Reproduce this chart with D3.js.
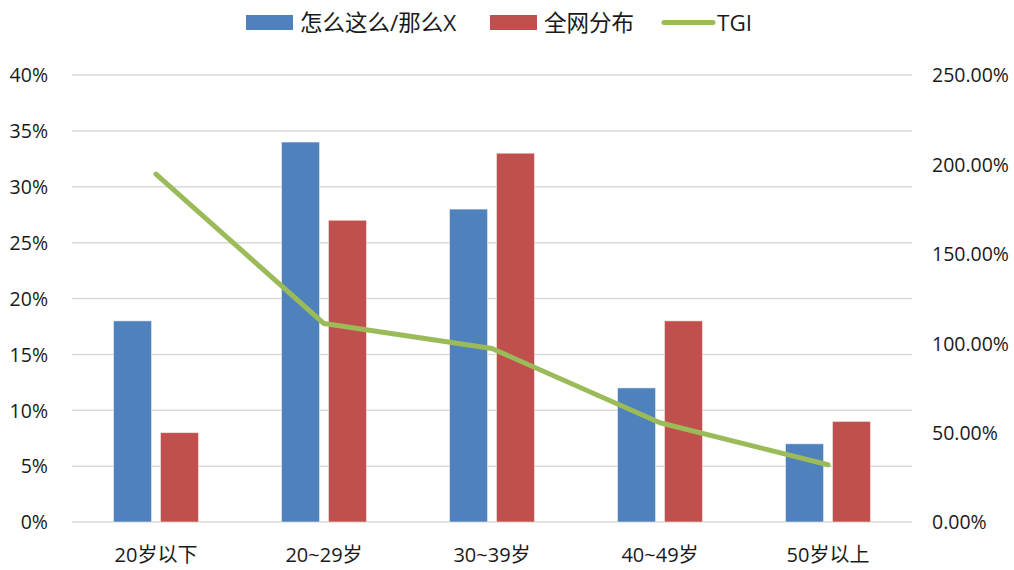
<!DOCTYPE html>
<html>
<head>
<meta charset="utf-8">
<script src="https://cdn.jsdelivr.net/npm/d3@7"></script>
<style>
  body { margin: 0; background: #fff; }
  svg text { font-family: "Open Sans", "Noto Sans CJK SC", sans-serif; fill: #1a1a1a; }
</style>
</head>
<body>
<div id="chart"></div>
<script>
const categories = ['20岁以下', '20~29岁', '30~39岁', '40~49岁', '50岁以上']
const seriesNames = ['怎么这么/那么X', '全网分布', 'TGI']
const blueValues = [18, 34, 28, 12, 7]
const redValues = [8, 27, 33, 18, 9]
const tgiValues = [194.5, 111, 97, 55.5, 32]
const leftTicks = [0, 5, 10, 15, 20, 25, 30, 35, 40]
const rightTicks = [0, 50, 100, 150, 200, 250]

const colors = ['#4f81bd', '#c0504d', '#9bbb59']

const drawChart = () => {
  const w = 1014
  const h = 570
  const left = 72
  const right = 912
  const top = 75
  const bottom = 522

  const svg = d3.select('#chart')
    .append('svg')
    .attr('width', w)
    .attr('height', h)

  const x0 = d3.scaleBand()
    .domain(categories)
    .range([left, right])
    .paddingInner(0.494)
    .paddingOuter(0.247)

  const x1 = d3.scaleBand()
    .domain([0, 1])
    .range([0, x0.bandwidth()])
    .paddingInner(0.19)

  const yLeft = d3.scaleLinear().domain([0, 40]).range([bottom, top])
  const yRight = d3.scaleLinear().domain([0, 250]).range([bottom, top])

  // gridlines
  svg.append('g')
    .selectAll('line')
    .data(leftTicks)
    .enter()
    .append('line')
    .attr('x1', left)
    .attr('x2', right)
    .attr('y1', d => yLeft(d))
    .attr('y2', d => yLeft(d))
    .attr('stroke', '#d9d9d9')
    .attr('stroke-width', 1.5)

  // left axis
  const yAxisL = d3.axisLeft(yLeft)
    .tickValues(leftTicks)
    .tickFormat(d => d + '%')
    .tickSize(0)
    .tickPadding(24)
  const gl = svg.append('g')
    .attr('transform', 'translate(' + left + ',0)')
    .call(yAxisL)
  gl.select('.domain').remove()
  gl.selectAll('text').style('font-size', '19.5px').attr('dy', '0.35em')

  // right axis
  const yAxisR = d3.axisRight(yRight)
    .tickValues(rightTicks)
    .tickFormat(d => d.toFixed(2) + '%')
    .tickSize(0)
    .tickPadding(20)
  const gr = svg.append('g')
    .attr('transform', 'translate(' + right + ',0)')
    .call(yAxisR)
  gr.select('.domain').remove()
  gr.selectAll('text').style('font-size', '19.5px').attr('dy', '0.35em')

  // bars
  const barData = []
  categories.forEach((c, i) => {
    barData.push({ cat: c, s: 0, v: blueValues[i] })
    barData.push({ cat: c, s: 1, v: redValues[i] })
  })
  svg.append('g')
    .selectAll('rect')
    .data(barData)
    .enter()
    .append('rect')
    .attr('x', d => x0(d.cat) + x1(d.s))
    .attr('y', d => yLeft(d.v))
    .attr('width', x1.bandwidth())
    .attr('height', d => yLeft(0) - yLeft(d.v))
    .attr('fill', d => colors[d.s])
    .attr('stroke', 'rgba(255,255,255,0.5)')
    .attr('stroke-width', 1)

  // TGI line
  const line = d3.line()
    .x((d, i) => x0(categories[i]) + x0.bandwidth() / 2)
    .y(d => yRight(d))
  svg.append('path')
    .datum(tgiValues)
    .attr('d', line)
    .attr('fill', 'none')
    .attr('stroke', colors[2])
    .attr('stroke-width', 5)
    .attr('stroke-linecap', 'round')
    .attr('stroke-linejoin', 'round')

  // x axis labels
  svg.append('g')
    .selectAll('text')
    .data(categories)
    .enter()
    .append('text')
    .attr('x', d => x0(d) + x0.bandwidth() / 2)
    .attr('y', 562)
    .attr('text-anchor', 'middle')
    .style('font-size', '20px')
    .text(d => d)

  // legend
  const legend = svg.append('g')
  const items = [
    { x: 246, type: 'rect' },
    { x: 490, type: 'rect' },
    { x: 664, type: 'line' }
  ]
  items.forEach((it, i) => {
    if (it.type === 'rect') {
      legend.append('rect')
        .attr('x', it.x)
        .attr('y', 15)
        .attr('width', 47)
        .attr('height', 15)
        .attr('fill', colors[i])
    } else {
      legend.append('line')
        .attr('x1', it.x)
        .attr('x2', it.x + 49)
        .attr('y1', 22.5)
        .attr('y2', 22.5)
        .attr('stroke', colors[i])
        .attr('stroke-width', 5)
        .attr('stroke-linecap', 'round')
    }
    legend.append('text')
      .attr('x', it.x + (it.type === 'rect' ? 54 : 53))
      .attr('y', 31)
      .style('font-size', '22.5px')
      .text(seriesNames[i])
  })
}

drawChart()
</script>
</body>
</html>
